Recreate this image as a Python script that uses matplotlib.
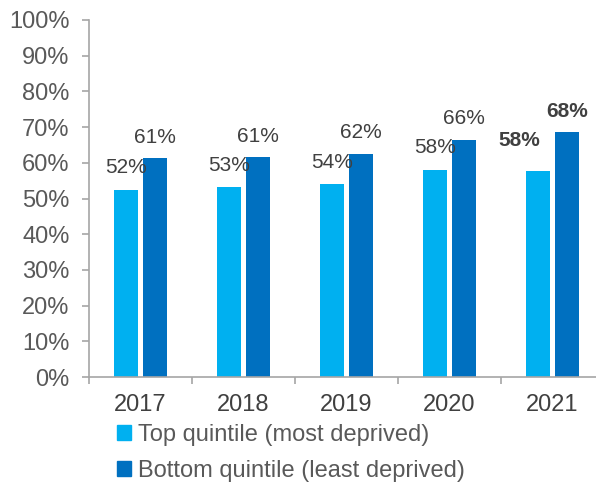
import matplotlib.pyplot as plt
from matplotlib.patches import Patch
import numpy as np

plt.rcParams['font.family'] = ['Liberation Sans', 'DejaVu Sans']

YEARS = ["2017", "2018", "2019", "2020", "2021"]
TOP_Q = [52.4, 53.2, 54.0, 58.0, 57.8]
BOTTOM_Q = [61.3, 61.5, 62.5, 66.4, 68.6]
TOP_LABELS = ["52%", "53%", "54%", "58%", "58%"]
BOTTOM_LABELS = ["61%", "61%", "62%", "66%", "68%"]
SERIES_NAMES = ["Top quintile (most deprived)", "Bottom quintile (least deprived)"]

LIGHT = "#00B0F0"
DARK = "#0070C0"
AXIS = "#A6A6A6"
TICK_TXT = "#595959"
LABEL_TXT = "#404040"

fig = plt.figure(figsize=(5.96, 4.84), dpi=100)
ax = fig.add_axes([89 / 596, 107 / 484, 515 / 596, 357 / 484])

x = np.arange(len(YEARS))
w = 0.24
off = 0.142
ax.bar(x - off, TOP_Q, w, color=LIGHT)
ax.bar(x + off, BOTTOM_Q, w, color=DARK)

# data labels; the last year is bold and its light label sits off to the left
for i in range(len(YEARS)):
    bold = i == len(YEARS) - 1
    dx = -19 if bold else 0
    dy = 30 if bold else 22
    ax.annotate(TOP_LABELS[i], (x[i] - off, TOP_Q[i]), xytext=(dx, dy),
                textcoords="offset pixels", ha="center", va="center",
                fontsize=15, color=LABEL_TXT,
                fontweight="bold" if bold else "normal")
    ax.annotate(BOTTOM_LABELS[i], (x[i] + off, BOTTOM_Q[i]), xytext=(0, 21),
                textcoords="offset pixels", ha="center", va="center",
                fontsize=15, color=LABEL_TXT,
                fontweight="bold" if bold else "normal")

ax.set_xlim(-0.5, len(YEARS) - 0.5)
ax.set_ylim(0, 100)
ax.set_yticks(np.arange(0, 101, 10))
ax.set_yticklabels([f"{v}%" for v in range(0, 101, 10)])
ax.set_xticks(x)
ax.set_xticklabels(YEARS)
ax.set_xticks(np.arange(-0.5, len(YEARS), 1), minor=True)

for s in ["top", "right"]:
    ax.spines[s].set_visible(False)
for s in ["left", "bottom"]:
    ax.spines[s].set_color(AXIS)
    ax.spines[s].set_linewidth(1.2)

ax.tick_params(axis="y", length=5, width=1.2, color=AXIS, labelsize=17,
               labelcolor=TICK_TXT, pad=9)
ax.tick_params(axis="x", which="major", length=0, labelsize=17,
               labelcolor=LABEL_TXT, pad=12)
ax.tick_params(axis="x", which="minor", length=5, width=1.2, color=AXIS)

handles = [Patch(color=LIGHT), Patch(color=DARK)]
fig.legend(handles, SERIES_NAMES, loc="upper left",
           bbox_to_anchor=(117 / 596, 60 / 484), frameon=False,
           fontsize=17, labelcolor=TICK_TXT, handlelength=0.6,
           handleheight=0.6, handletextpad=0.3, labelspacing=0.6,
           borderpad=0, borderaxespad=0)

fig.savefig("out.png", dpi=100)
